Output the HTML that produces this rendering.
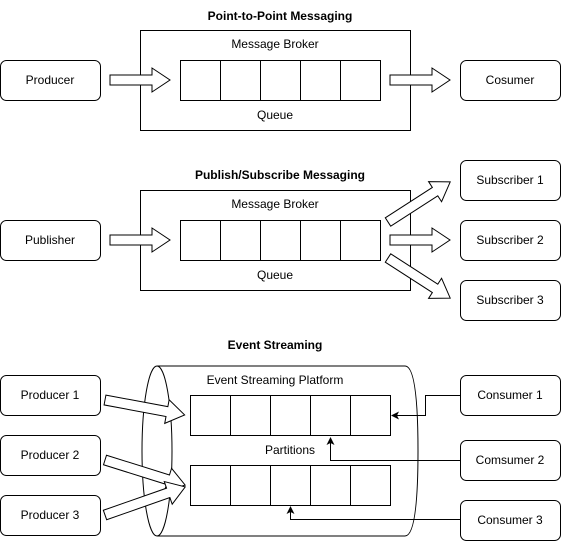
<!DOCTYPE html>
<html><head><style>body{margin:0;background:#fff}svg{display:block}text{font-family:"Liberation Sans",Arial,sans-serif;font-size:12px;fill:#000}</style></head>
<body>
<svg width="561" height="541" viewBox="0 0 561 541" xmlns="http://www.w3.org/2000/svg">
<defs>
<g id="c5" fill="#fff" stroke="#000"><rect x="0" y="0" width="40" height="40"/><rect x="40" y="0" width="40" height="40"/><rect x="80" y="0" width="40" height="40"/><rect x="120" y="0" width="40" height="40"/><rect x="160" y="0" width="40" height="40"/></g>
<marker id="ah" markerWidth="8" markerHeight="8" refX="7" refY="4" orient="auto" markerUnits="userSpaceOnUse"><path d="M0,0 L8,4 L0,8 L2,4Z" fill="#000"/></marker>
</defs>
<g fill="#fff" stroke="#000" stroke-width="1">
<!-- Section 1 -->
<rect x="0.5" y="60.5" width="100" height="40" rx="6"/>
<rect x="140.5" y="30.5" width="270" height="100"/>
<rect x="460.5" y="60.5" width="100" height="40" rx="6"/>
<!-- Section 2 -->
<rect x="0.5" y="220.5" width="100" height="40" rx="6"/>
<rect x="140.5" y="190.5" width="270" height="100"/>
<rect x="460.5" y="160.5" width="100" height="40" rx="6"/>
<rect x="460.5" y="220.5" width="100" height="40" rx="6"/>
<rect x="460.5" y="280.5" width="100" height="40" rx="6"/>
<!-- Section 3 -->
<rect x="0.5" y="375.5" width="100" height="40" rx="6"/>
<rect x="0.5" y="435.5" width="100" height="40" rx="6"/>
<rect x="0.5" y="495.5" width="100" height="40" rx="6"/>
<rect x="460.5" y="375.5" width="100" height="40" rx="6"/>
<rect x="460.5" y="440.5" width="100" height="40" rx="6"/>
<rect x="460.5" y="500.5" width="100" height="40" rx="6"/>
<path d="M157,366 L405,366 Q418,366 418,451 Q418,536 405,536 L157,536"/>
<ellipse cx="157" cy="451" rx="15" ry="85"/>
</g>
<use href="#c5" x="180.5" y="60.5"/>
<use href="#c5" x="180.5" y="220.5"/>
<use href="#c5" x="190.5" y="395.5"/>
<use href="#c5" x="190.5" y="465.5"/>
<g fill="#fff" stroke="#000">
<path id="ba" d="M0,-5 L42,-5 L42,-12 L60,0 L42,12 L42,5 L0,5Z" transform="translate(110,80)"/>
<path d="M0,-5 L42,-5 L42,-12 L60,0 L42,12 L42,5 L0,5Z" transform="translate(390,80)"/>
<path d="M0,-5 L42,-5 L42,-12 L60,0 L42,12 L42,5 L0,5Z" transform="translate(110,240)"/>
<path d="M0,-5 L42,-5 L42,-12 L60,0 L42,12 L42,5 L0,5Z" transform="translate(390,240)"/>
<path d="M0,-5 L56,-5 L56,-12 L74,0 L56,12 L56,5 L0,5Z" transform="translate(388,222) rotate(-32.8)"/>
<path d="M0,-5 L56,-5 L56,-12 L74,0 L56,12 L56,5 L0,5Z" transform="translate(388,258) rotate(32.8)"/>
<path d="M0,-5 L63,-5 L63,-12 L81,0 L63,12 L63,5 L0,5Z" transform="translate(105,400) rotate(10.6)"/>
<path d="M0,-5 L66,-5 L66,-12 L84,0 L66,12 L66,5 L0,5Z" transform="translate(105,460) rotate(17.4)"/>
<path d="M0,-5 L67,-5 L67,-12 L85,0 L67,12 L67,5 L0,5Z" transform="translate(105,515) rotate(-19.3)"/>
</g>
<g fill="none" stroke="#000">
<path d="M460,395.5 H425.5 V415.5 H392" marker-end="url(#ah)"/>
<path d="M460,460.5 H330.5 V438" marker-end="url(#ah)"/>
<path d="M460,519.5 H290.5 V507" marker-end="url(#ah)"/>
</g>
<g text-anchor="middle">
<text x="280" y="20" font-weight="bold">Point-to-Point Messaging</text>
<text x="50" y="84">Producer</text>
<text x="275" y="48">Message Broker</text>
<text x="275" y="119">Queue</text>
<text x="510" y="84">Cosumer</text>
<text x="280" y="179" font-weight="bold">Publish/Subscribe Messaging</text>
<text x="50" y="244">Publisher</text>
<text x="275" y="208">Message Broker</text>
<text x="275" y="279">Queue</text>
<text x="510" y="184">Subscriber 1</text>
<text x="510" y="244">Subscriber 2</text>
<text x="510" y="304">Subscriber 3</text>
<text x="275" y="349" font-weight="bold">Event Streaming</text>
<text x="275" y="384">Event Streaming Platform</text>
<text x="290" y="454">Partitions</text>
<text x="50" y="399">Producer 1</text>
<text x="50" y="459">Producer 2</text>
<text x="50" y="519">Producer 3</text>
<text x="510" y="399">Consumer 1</text>
<text x="510" y="464">Comsumer 2</text>
<text x="510" y="524">Consumer 3</text>
</g>
</svg>
</body></html>
